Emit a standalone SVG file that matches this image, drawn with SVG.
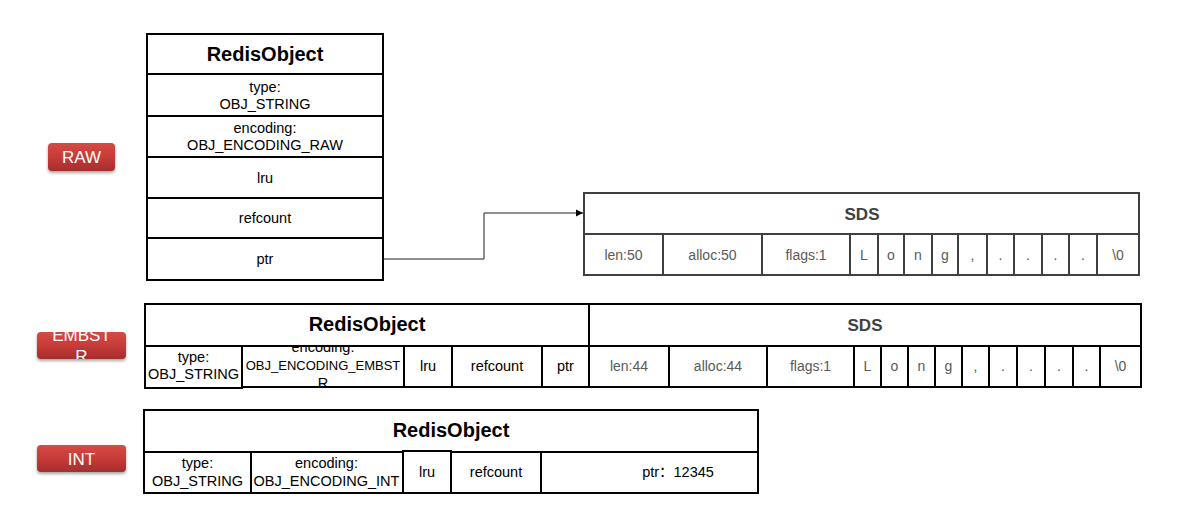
<svg xmlns="http://www.w3.org/2000/svg" width="1203" height="509" viewBox="0 0 1203 509">
  <style>
    .box { fill: #ffffff; stroke: #000000; stroke-width: 2; }
    .sbox { fill: #ffffff; stroke: #404040; stroke-width: 2; }
    .ln { stroke: #000000; stroke-width: 2; fill: none; }
    .sln { stroke: #404040; stroke-width: 2; fill: none; }
    .t { font-family: "Liberation Sans", Arial, "Noto Sans CJK SC", sans-serif; font-size: 14.5px; fill: #000000; text-anchor: middle; }
    .title { font-family: "Liberation Sans", Arial, sans-serif; font-size: 20px; font-weight: bold; fill: #000000; text-anchor: middle; }
    .stitle { font-family: "Liberation Sans", Arial, sans-serif; font-size: 17px; font-weight: bold; fill: #404040; text-anchor: middle; }
    .st { font-family: "Liberation Sans", Arial, sans-serif; font-size: 14px; fill: #595959; text-anchor: middle; }
    .btn { fill: url(#btnGrad); filter: url(#btnShadow); }
    .bt { font-family: "Liberation Sans", Arial, sans-serif; font-size: 17px; fill: #ffffff; text-anchor: middle; }
    .conn { stroke: #202020; stroke-width: 1; fill: none; }
  </style>
  <defs>
    <linearGradient id="btnGrad" x1="0" y1="0" x2="0" y2="1">
      <stop offset="0" stop-color="#d64a45"/>
      <stop offset="0.5" stop-color="#c73b38"/>
      <stop offset="1" stop-color="#a52d2d"/>
    </linearGradient>
    <filter id="btnShadow" x="-20%" y="-30%" width="140%" height="180%">
      <feDropShadow dx="0" dy="2" stdDeviation="1.5" flood-color="#000000" flood-opacity="0.35"/>
    </filter>
    <marker id="arrow" markerWidth="8" markerHeight="8" refX="7" refY="4" orient="auto" markerUnits="userSpaceOnUse">
      <path d="M0,0.5 L7,4 L0,7.5 Z" fill="#000000"/>
    </marker>
    <clipPath id="clipEmbBtn"><rect x="37" y="332" width="89" height="27" rx="4"/></clipPath>
    <clipPath id="clipEmbEnc"><rect x="243" y="347" width="160" height="40"/></clipPath>
  </defs>

  <!-- encoding labels -->
  <g id="label-raw">
    <rect class="btn" x="48" y="143" width="67" height="28" rx="4"/>
    <text class="bt" x="81.5" y="163">RAW</text>
  </g>
  <g id="label-embstr">
    <rect class="btn" x="37" y="332" width="89" height="27" rx="4"/>
    <g clip-path="url(#clipEmbBtn)">
      <text class="bt" x="81.5" y="341">EMBST<tspan x="81.5" dy="21">R</tspan></text>
    </g>
  </g>
  <g id="label-int">
    <rect class="btn" x="37" y="445" width="89" height="27" rx="4"/>
    <text class="bt" x="81.5" y="464.5">INT</text>
  </g>

  <!-- RAW: RedisObject -->
  <g id="raw-object">
    <rect class="box" x="147" y="34" width="236" height="246"/>
    <path class="ln" d="M147 74H383M147 116H383M147 157H383M147 198H383M147 238H383"/>
    <text class="title" x="265" y="61">RedisObject</text>
    <text class="t" x="265" y="92">type:<tspan x="265" dy="16.5">OBJ_STRING</tspan></text>
    <text class="t" x="265" y="133">encoding:<tspan x="265" dy="16.5">OBJ_ENCODING_RAW</tspan></text>
    <text class="t" x="265" y="183">lru</text>
    <text class="t" x="265" y="223">refcount</text>
    <text class="t" x="265" y="264">ptr</text>
  </g>

  <!-- RAW: SDS -->
  <g id="raw-sds">
    <rect class="sbox" x="584" y="193" width="555" height="82"/>
    <path class="sln" d="M584 234H1139M663 234V275M762 234V275M850 234V275M878 234V275M904 234V275M932 234V275M958 234V275M987 234V275M1014 234V275M1042 234V275M1069 234V275M1097 234V275"/>
    <text class="stitle" x="862" y="220">SDS</text>
    <text class="st" x="623.5" y="259.5">len:50</text>
    <text class="st" x="712.5" y="259.5">alloc:50</text>
    <text class="st" x="806" y="259.5">flags:1</text>
    <text class="st" x="864" y="259.5">L</text>
    <text class="st" x="891" y="259.5">o</text>
    <text class="st" x="918" y="259.5">n</text>
    <text class="st" x="945" y="259.5">g</text>
    <text class="st" x="972.5" y="259.5">,</text>
    <text class="st" x="1000.5" y="259.5">.</text>
    <text class="st" x="1028" y="259.5">.</text>
    <text class="st" x="1055.5" y="259.5">.</text>
    <text class="st" x="1083" y="259.5">.</text>
    <text class="st" x="1118" y="259.5">\0</text>
  </g>

  <!-- EMBSTR: RedisObject -->
  <g id="embstr-object">
    <rect class="box" x="145" y="304" width="444" height="83"/>
    <path class="ln" d="M145 346H589M404 346V387M452 346V387M542 346V387"/>
    <rect class="box" x="145" y="346" width="97" height="42"/>
    <text class="title" x="367" y="331">RedisObject</text>
    <text class="t" x="193.5" y="362">type:<tspan x="193.5" dy="17">OBJ_STRING</tspan></text>
    <g clip-path="url(#clipEmbEnc)">
      <text class="t" x="323" y="352">encoding:<tspan x="323" dy="18" font-size="13">OBJ_ENCODING_EMBST</tspan><tspan x="323" dy="18">R</tspan></text>
    </g>
    <text class="t" x="428" y="371">lru</text>
    <text class="t" x="497" y="371">refcount</text>
    <text class="t" x="565.5" y="371">ptr</text>
  </g>

  <!-- EMBSTR: SDS -->
  <g id="embstr-sds">
    <rect class="box" x="589" y="304" width="552" height="83"/>
    <path class="ln" d="M589 304V387" stroke-width="3"/>
    <path class="ln" d="M589 346H1141M669 346V387M767 346V387M854 346V387M881 346V387M908 346V387M935 346V387M962 346V387M989 346V387M1017 346V387M1045 346V387M1073 346V387M1100 346V387"/>
    <text class="stitle" x="865" y="331">SDS</text>
    <text class="st" x="629" y="371">len:44</text>
    <text class="st" x="718" y="371">alloc:44</text>
    <text class="st" x="810.5" y="371">flags:1</text>
    <text class="st" x="867.5" y="371">L</text>
    <text class="st" x="894.5" y="371">o</text>
    <text class="st" x="921.5" y="371">n</text>
    <text class="st" x="948.5" y="371">g</text>
    <text class="st" x="975.5" y="371">,</text>
    <text class="st" x="1003" y="371">.</text>
    <text class="st" x="1031" y="371">.</text>
    <text class="st" x="1059" y="371">.</text>
    <text class="st" x="1086.5" y="371">.</text>
    <text class="st" x="1120.5" y="371">\0</text>
  </g>

  <!-- INT: RedisObject -->
  <g id="int-object">
    <rect class="box" x="144" y="410" width="614" height="83"/>
    <path class="ln" d="M144 452H758M251 452V493M541 452V493"/>
    <rect class="box" x="403" y="451" width="48" height="42"/>
    <text class="title" x="451" y="437">RedisObject</text>
    <text class="t" x="197.5" y="468">type:<tspan x="197.5" dy="17.5">OBJ_STRING</tspan></text>
    <text class="t" x="326.5" y="468">encoding:<tspan x="326.5" dy="17.5">OBJ_ENCODING_INT</tspan></text>
    <text class="t" x="427" y="477">lru</text>
    <text class="t" x="496" y="477">refcount</text>
    <text class="t" x="678" y="477">ptr：12345</text>
  </g>

  <!-- connectors -->
  <g id="connectors">
    <path class="conn" d="M383 259H484V213H583" marker-end="url(#arrow)"/>
  </g>
</svg>
